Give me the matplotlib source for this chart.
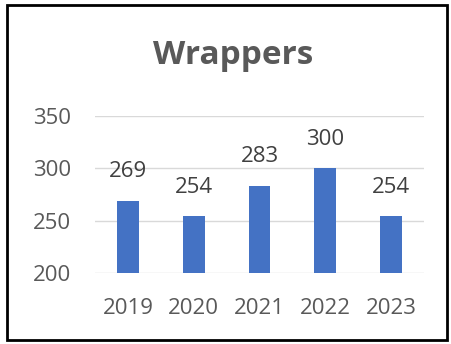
import matplotlib.pyplot as plt
from matplotlib.patches import Rectangle

years = ['2019', '2020', '2021', '2022', '2023']
wrappers = [269, 254, 283, 300, 254]
y_ticks = [200, 250, 300, 350]

plt.rcParams['font.family'] = ['Open Sans', 'DejaVu Sans']

fig = plt.figure(figsize=(4.52, 3.44), dpi=100)
W, H = 452, 344

# 그래프 영역 (픽셀 기준으로 배치)
ax = fig.add_axes([95 / W, 1 - 273 / H, 329 / W, 157 / H])

x = range(len(years))
bars = ax.bar(x, wrappers, width=0.33, color='#4472C4', zorder=3)

ax.set_ylim(200, 350)
ax.set_xlim(-0.5, len(years) - 0.5)
ax.set_yticks(y_ticks)
ax.set_xticks(list(x))
ax.set_xticklabels(years)
ax.grid(axis='y', color='#D9D9D9', linewidth=1, zorder=0)
for s in ax.spines.values():
    s.set_visible(False)
ax.tick_params(length=0, labelsize=16, colors='#595959')
ax.tick_params(axis='x', pad=18)
ax.tick_params(axis='y', pad=17)

# 데이터 레이블
for xi, v in zip(x, wrappers):
    ax.annotate(str(v), (xi, v), xytext=(0, 21), textcoords='offset points',
                ha='center', va='center', fontsize=16, color='#404040')

fig.text(233 / W, 1 - 56 / H, 'Wrappers', ha='center', va='center',
         fontsize=24, fontweight='bold', color='#595959')

# 바깥 테두리
fig.patches.append(Rectangle((7 / W, 4 / H), 440 / W, 335 / H, transform=fig.transFigure,
                             fill=False, edgecolor='black', linewidth=2))

fig.savefig('out.png', dpi=100)
